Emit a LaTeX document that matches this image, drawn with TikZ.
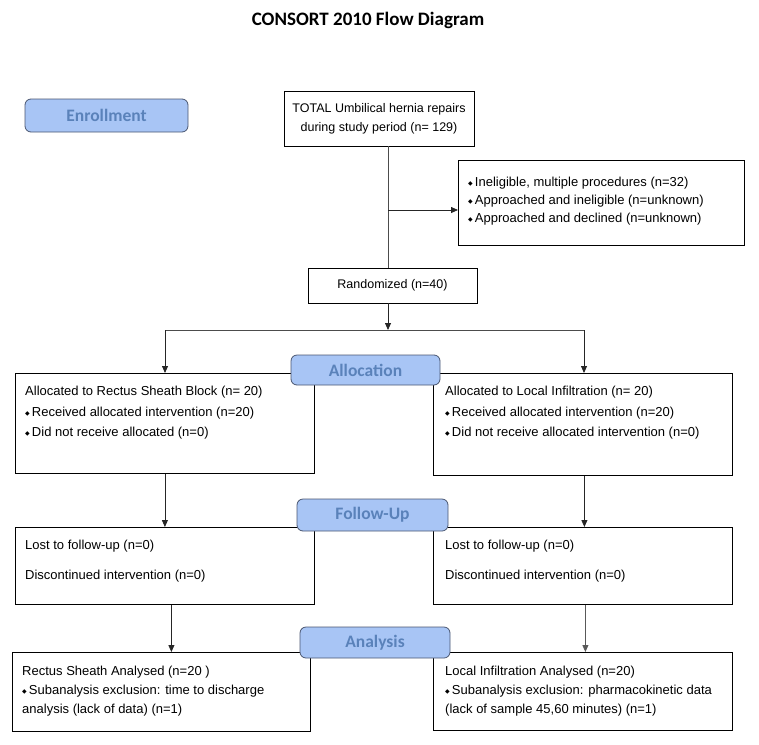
\documentclass[tikz,border=0pt]{standalone}
\usepackage{fontspec}
\setmainfont{Liberation Sans}
\newfontfamily\calfont{Carlito}
\newfontfamily\symfont{DejaVu Sans}
\usetikzlibrary{positioning, arrows.meta, calc}
\definecolor{phasefill}{HTML}{A8C5F5}
\definecolor{phasedraw}{HTML}{4A5670}
\definecolor{phasetext}{HTML}{5A82BA}
\newcommand{\bul}{{\symfont\fontsize{6}{6}\selectfont\raisebox{0.9pt}{◆}}\,}

\begin{document}
\begin{tikzpicture}[x=1pt, y=-1pt,
  box/.style={rectangle, draw, thick, fill=white, anchor=north west, inner sep=0pt},
  cbox/.style={rectangle, draw, thick, fill=white, align=center, inner sep=0pt, font=\fontsize{12.5}{19}\selectfont},
  txt/.style={anchor=north west, align=left, inner sep=0pt, font=\fontsize{13}{19}\selectfont},
  phase/.style={rectangle, rounded corners=6pt, draw=phasedraw, thick, fill=phasefill, text=phasetext, inner sep=0pt, font=\calfont\bfseries\fontsize{17.5}{18}\selectfont},
  link/.style={-{Triangle[length=7pt, width=6pt]}, thick, black!85},
  plain/.style={thick, black!70}
]
\useasboundingbox (0,0) rectangle (759,744);

% ===== Title =====
\node[font=\calfont\bfseries\fontsize{19}{21}\selectfont] (title) at (368,20) {CONSORT 2010 Flow Diagram};

% ===== Enrollment =====
\node[cbox, minimum width=190, minimum height=55] (total) at (379,118.5) {TOTAL Umbilical hernia repairs\\during study period (n= 129)};
\node[box, minimum width=286, minimum height=85] (excl) at (458,160) {};
\node[txt, font=\fontsize{13}{18}\selectfont] (excltxt) at ([shift={(10,17)}]excl.north west)
  {\bul Ineligible, multiple procedures (n=32)\\\bul Approached and ineligible (n=unknown)\\\bul Approached and declined (n=unknown)};
\node[cbox, minimum width=169, minimum height=35] (rand) at (392.5,285.5) {Randomized (n=40)};

% ===== Allocation =====
\node[box, minimum width=299, minimum height=100] (allocL) at (15,373) {};
\node[txt, font=\fontsize{13}{20.5}\selectfont] (allocLtxt) at ([shift={(10,13)}]allocL.north west)
  {Allocated to Rectus Sheath Block (n= 20)\\\bul Received allocated intervention (n=20)\\\bul Did not receive allocated (n=0)};
\node[box, minimum width=299, minimum height=102] (allocR) at (433,373) {};
\node[txt, font=\fontsize{13}{20.5}\selectfont] (allocRtxt) at ([shift={(12,13)}]allocR.north west)
  {Allocated to Local Infiltration (n= 20)\\\bul Received allocated intervention (n=20)\\\bul Did not receive allocated intervention (n=0)};

% ===== Follow-up =====
\node[box, minimum width=299, minimum height=77] (followL) at (15,527) {};
\node[txt, font=\fontsize{13}{30}\selectfont] (followLtxt) at ([shift={(10,13)}]followL.north west)
  {Lost to follow-up (n=0)\\Discontinued intervention (n=0)};
\node[box, minimum width=299, minimum height=77] (followR) at (433,527) {};
\node[txt, font=\fontsize{13}{30}\selectfont] (followRtxt) at ([shift={(12,13)}]followR.north west)
  {Lost to follow-up (n=0)\\Discontinued intervention (n=0)};

% ===== Analysis =====
\node[box, minimum width=298, minimum height=79] (anaL) at (12,652) {};
\node[txt] (anaLtxt) at ([shift={(10,14)}]anaL.north west)
  {Rectus Sheath Analysed (n=20 )\\\bul Subanalysis exclusion: time to discharge\\analysis (lack of data) (n=1)};
\node[box, minimum width=299, minimum height=78] (anaR) at (433,652) {};
\node[txt] (anaRtxt) at ([shift={(12,14)}]anaR.north west)
  {Local Infiltration Analysed (n=20)\\\bul Subanalysis exclusion: pharmacokinetic data\\(lack of sample 45,60 minutes) (n=1)};

% ===== Phase labels =====
\node[phase, minimum width=163, minimum height=33] (enroll) at (106.5,115.5) {Enrollment};
\node[phase, minimum width=149, minimum height=30] (alloc) at (365.5,370) {Allocation};
\node[phase, minimum width=151, minimum height=32] (follow) at (372.5,515) {Follow-Up};
\node[phase, minimum width=150, minimum height=31] (ana) at (375,642.5) {Analysis};

% ===== Connectors =====
\coordinate (split) at (388,210);
\coordinate (bar) at (388,330);
\coordinate (barL) at (165,330);
\coordinate (barR) at (584,330);
\draw[plain] (total.south -| split) -- (rand.north -| split);
\draw[link] (split) -- (split -| excl.west);
\draw[link] (rand.south -| bar) -- (bar);
\draw[plain] (barL) -- (barR);
\draw[link] (barL) -- (barL |- allocL.north);
\draw[link] (barR) -- (barR |- allocR.north);
\draw[link] (allocL.south) -- (followL.north);
\draw[link] ([xshift=1.5]allocR.south) -- ([xshift=1.5]followR.north);
\draw[link] ([xshift=6.5]followL.south) -- ([xshift=6.5]followL.south |- anaL.north);
\draw[link, black!65] ([xshift=2.5]followR.south) -- ([xshift=2.5]followR.south |- anaR.north);

\end{tikzpicture}
\end{document}
